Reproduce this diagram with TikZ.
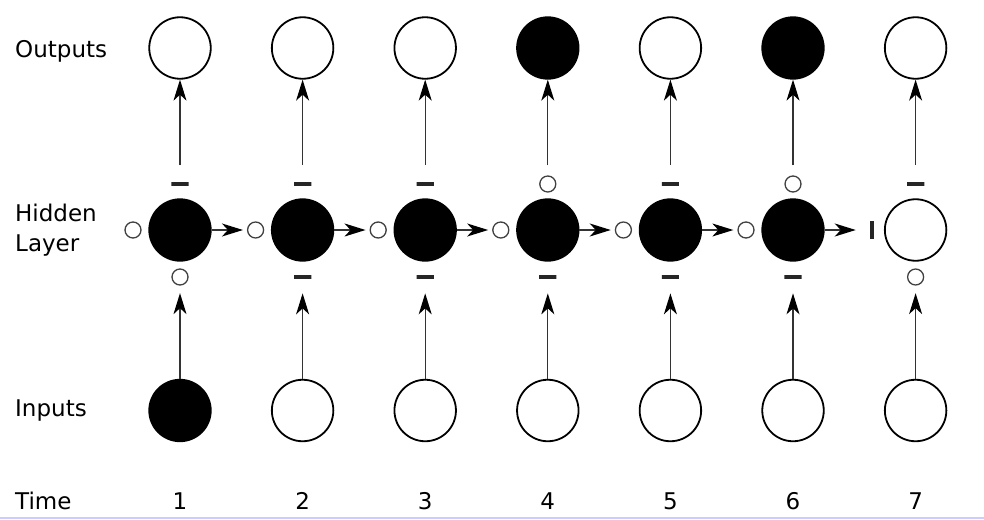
\documentclass[tikz,border=0pt]{standalone}
\usepackage{fontspec}
\setmainfont{DejaVu Sans}
\usetikzlibrary{arrows.meta}
\tikzset{
  unit/.style={circle, draw, line width=1.8pt, minimum size=61.5pt, inner sep=0pt},
  on/.style={unit, fill=black},
  off/.style={unit, fill=white},
  open/.style={circle, draw=black!75, line width=1.3pt, minimum size=16pt, inner sep=0pt},
  hbar/.style={rectangle, minimum size=17.3pt, inner sep=0pt,
    path picture={\fill[black!85] ([xshift=-9pt,yshift=-1.7pt]path picture bounding box.center) rectangle ++(18pt,3.4pt);}},
  vbar/.style={rectangle, minimum size=17.3pt, inner sep=0pt,
    path picture={\fill[black!85] ([xshift=1.6pt,yshift=-8.6pt]path picture bounding box.center) rectangle ++(3.4pt,17.2pt);}},
  conn/.style={-{Stealth[length=21pt,width=13pt,inset=6pt,color=black]}, line width=1.3pt, draw=black!80},
  lbl/.style={anchor=base west, inner sep=0pt, font=\fontsize{23}{30}\selectfont}
}
\begin{document}
\begin{tikzpicture}[x=1pt,y=-1pt]
  \useasboundingbox (0,0) rectangle (984,519);
  \draw[line width=1.5pt, blue!20] (0,518.2) -- (984,518.2);
  % row labels
  \node[lbl] (outlbl) at (15,57) {Outputs};
  \node[lbl, align=left] (hidlbl) at (15,251.7) {Hidden\\Layer};
  \node[lbl] (inlbl) at (15,416) {Inputs};
  \node[lbl] (timelbl) at (15,509) {Time};
  % columns: output / hidden / input / gate above / gate below / gate left
  \foreach \i/\o/\h/\n/\t/\b/\l [evaluate=\i as \x using 180+122.6*(\i-1)] in
    {1/off/on/on/hbar/open/open,
     2/off/on/off/hbar/hbar/open,
     3/off/on/off/hbar/hbar/open,
     4/on/on/off/open/hbar/open,
     5/off/on/off/hbar/hbar/open,
     6/on/on/off/open/hbar/open,
     7/off/off/off/hbar/open/vbar}
  {
    \node[\o] (o\i) at (\x,48) {};
    \node[\h] (h\i) at (\x,230) {};
    \node[\n] (in\i) at (\x,410.5) {};
    \node[\t] (gt\i) at (\x,184) {};
    \node[\b] (gb\i) at (\x,277) {};
    \node[\l] (gl\i) at (\x-47,230) {};
    \node[lbl, anchor=base] (t\i) at (\x,509) {\i};
    \draw[conn, shorten >=7.5pt] (in\i) -- (gb\i);
    \draw[conn, shorten <=10pt] (gt\i) -- (o\i);
  }
  \foreach \i [evaluate=\i as \j using int(\i+1)] in {1,...,6}
    \draw[conn, shorten >=4pt] (h\i) -- (gl\j);
\end{tikzpicture}
\end{document}
